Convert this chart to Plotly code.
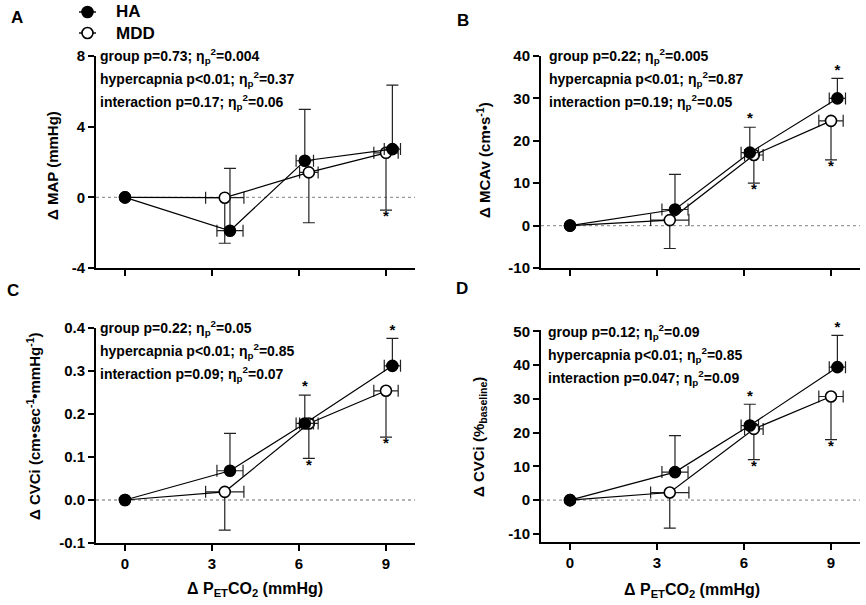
import plotly.graph_objects as go

# delta PETCO2 (mmHg) for each stage, mean and SD
ha_x = [0, 3.62, 6.2, 9.22]
ha_x_sd = [0, 0.45, 0.3, 0.28]
mdd_x = [0, 3.44, 6.34, 9.0]
mdd_x_sd = [0, 0.66, 0.32, 0.42]
x_ticks = [0, 3, 6, 9]

# A: delta MAP (mmHg)
map_ha = [0, -1.89, 2.07, 2.73]
map_ha_sd = [0, 3.53, 2.91, 3.62]
map_mdd = [0, -0.02, 1.41, 2.52]
map_mdd_sd = [0, 2.58, 2.85, 3.24]
map_ticks = [-4, 0, 4, 8]

# B: delta MCAv (cm/s)
mcav_ha = [0, 3.8, 17.2, 30.0]
mcav_ha_sd = [0, 8.3, 6.0, 4.7]
mcav_mdd = [0, 1.3, 16.65, 24.7]
mcav_mdd_sd = [0, 6.7, 6.65, 9.2]
mcav_ticks = [-10, 0, 10, 20, 30, 40]

# C: delta CVCi (cm/s/mmHg)
cvci_ha = [0, 0.068, 0.178, 0.312]
cvci_ha_sd = [0, 0.087, 0.066, 0.064]
cvci_mdd = [0, 0.019, 0.178, 0.254]
cvci_mdd_sd = [0, 0.089, 0.081, 0.108]
cvci_ticks = [-0.1, 0.0, 0.1, 0.2, 0.3, 0.4]

# D: delta CVCi (% baseline)
cvcp_ha = [0, 8.3, 22.1, 39.4]
cvcp_ha_sd = [0, 10.8, 6.3, 9.4]
cvcp_mdd = [0, 2.25, 21.1, 30.7]
cvcp_mdd_sd = [0, 10.55, 9.1, 12.8]
cvcp_ticks = [-10, 0, 10, 20, 30, 40, 50]

# significance vs baseline
star_a_ha = [False, False, False, False]
star_a_mdd = [False, False, False, True]
star_ha = [False, False, True, True]
star_mdd = [False, False, True, True]

stats_a = ["group p=0.73; η<sub>p</sub><sup>2</sup>=0.004",
           "hypercapnia p<0.01; η<sub>p</sub><sup>2</sup>=0.37",
           "interaction p=0.17; η<sub>p</sub><sup>2</sup>=0.06"]
stats_b = ["group p=0.22; η<sub>p</sub><sup>2</sup>=0.005",
           "hypercapnia p<0.01; η<sub>p</sub><sup>2</sup>=0.87",
           "interaction p=0.19; η<sub>p</sub><sup>2</sup>=0.05"]
stats_c = ["group p=0.22; η<sub>p</sub><sup>2</sup>=0.05",
           "hypercapnia p<0.01; η<sub>p</sub><sup>2</sup>=0.85",
           "interaction p=0.09; η<sub>p</sub><sup>2</sup>=0.07"]
stats_d = ["group p=0.12; η<sub>p</sub><sup>2</sup>=0.09",
           "hypercapnia p<0.01; η<sub>p</sub><sup>2</sup>=0.85",
           "interaction p=0.047; η<sub>p</sub><sup>2</sup>=0.09"]

FONT = "Arial, Liberation Sans, sans-serif"
W, H = 866, 605

fig = go.Figure()


def add_panel(n, ha, ha_sd, mdd, mdd_sd, s_ha, s_mdd):
    xa = "x" if n == 1 else "x%d" % n
    ya = "y" if n == 1 else "y%d" % n
    eb = dict(thickness=1.2, width=6, color="#222")
    fig.add_trace(go.Scatter(
        x=mdd_x, y=mdd, xaxis=xa, yaxis=ya, name="MDD", mode="lines+markers",
        line=dict(color="black", width=1.2),
        marker=dict(size=11, color="white", line=dict(color="black", width=1.6)),
        error_y=dict(type="data", array=[0] * 4, arrayminus=mdd_sd, symmetric=False, **eb),
        error_x=dict(type="data", array=mdd_x_sd, **eb)))
    fig.add_trace(go.Scatter(
        x=ha_x, y=ha, xaxis=xa, yaxis=ya, name="HA", mode="lines+markers",
        line=dict(color="black", width=1.2),
        marker=dict(size=11, color="black", line=dict(color="black", width=1.6)),
        error_y=dict(type="data", array=ha_sd, arrayminus=[0] * 4, symmetric=False, **eb),
        error_x=dict(type="data", array=ha_x_sd, **eb)))
    # stars beyond the error bar ends
    sx = [ha_x[i] for i in range(4) if s_ha[i]]
    sy = [ha[i] + ha_sd[i] for i in range(4) if s_ha[i]]
    if sx:
        fig.add_trace(go.Scatter(x=sx, y=sy, xaxis=xa, yaxis=ya, mode="text", text=["*"] * len(sx),
                                 textposition="top center", cliponaxis=False,
                                 textfont=dict(family=FONT, size=15, color="black", weight="bold")))
    sx = [mdd_x[i] for i in range(4) if s_mdd[i]]
    sy = [mdd[i] - mdd_sd[i] for i in range(4) if s_mdd[i]]
    if sx:
        fig.add_trace(go.Scatter(x=sx, y=sy, xaxis=xa, yaxis=ya, mode="text", text=["*"] * len(sx),
                                 textposition="bottom center", cliponaxis=False,
                                 textfont=dict(family=FONT, size=15, color="black", weight="bold")))


add_panel(1, map_ha, map_ha_sd, map_mdd, map_mdd_sd, star_a_ha, star_a_mdd)
add_panel(2, mcav_ha, mcav_ha_sd, mcav_mdd, mcav_mdd_sd, star_ha, star_mdd)
add_panel(3, cvci_ha, cvci_ha_sd, cvci_mdd, cvci_mdd_sd, star_ha, star_mdd)
add_panel(4, cvcp_ha, cvcp_ha_sd, cvcp_mdd, cvcp_mdd_sd, star_ha, star_mdd)

# panel boxes in pixels: left, right, top, bottom
boxes = {1: (96, 415, 56, 268), 2: (541, 860, 56, 268),
         3: (96, 415, 328, 543), 4: (541, 860, 330, 542)}
yranges = {1: [-4, 8], 2: [-10, 40], 3: [-0.1, 0.4], 4: [-12.4, 50.4]}
yticks = {1: (map_ticks, "%d"), 2: (mcav_ticks, "%d"), 3: (cvci_ticks, "%.1f"), 4: (cvcp_ticks, "%d")}

axis_common = dict(showline=True, linecolor="black", linewidth=2, ticks="outside",
                   tickwidth=2, ticklen=6, tickcolor="black", showgrid=False, zeroline=False,
                   automargin=False,
                   tickfont=dict(family=FONT, size=15, color="black", weight="bold"))

for n, (l, r, t, b) in boxes.items():
    sfx = "" if n == 1 else str(n)
    vals, fmt = yticks[n]
    fig.layout["xaxis" + sfx] = dict(
        domain=[l / W, r / W], anchor="y" + sfx, range=[-1, 10],
        tickvals=x_ticks, showticklabels=n in (3, 4), **axis_common)
    fig.layout["yaxis" + sfx] = dict(
        domain=[1 - b / H, 1 - t / H], anchor="x" + sfx, range=yranges[n],
        tickvals=vals, ticktext=[fmt % v for v in vals], **axis_common)
    fig.add_shape(type="line", xref="x%s domain" % sfx, yref="y" + sfx, x0=0, x1=1, y0=0, y1=0,
                  line=dict(color="#9a9a9a", width=1.3, dash="dot"), layer="below")

anns = []


def txt(x, y, s, size=14, angle=0, xanchor="left"):
    anns.append(dict(x=x / W, y=1 - y / H, xref="paper", yref="paper", text=s, showarrow=False,
                     xanchor=xanchor, yanchor="middle", textangle=angle, align="left",
                     font=dict(family=FONT, size=size, color="black", weight="bold")))


for lines, (x0, y0) in [(stats_a, (98, 56)), (stats_b, (547, 56)),
                        (stats_c, (98, 328)), (stats_d, (546, 332))]:
    for i, s in enumerate(lines):
        txt(x0, y0 + i * 23, s)

txt(17, 18, "A", 17, xanchor="center")
txt(463, 20, "B", 17, xanchor="center")
txt(13, 290, "C", 17, xanchor="center")
txt(462, 288, "D", 17, xanchor="center")

txt(53, 166, "Δ MAP (mmHg)", 15, -90, "center")
txt(483, 160, "Δ MCAv (cm•s<sup>-1</sup>)", 15, -90, "center")
txt(33, 426, "Δ CVCi (cm•sec<sup>-1</sup>•mmHg<sup>-1</sup>)", 15, -90, "center")
txt(480, 437, "Δ CVCi (%<sub>baseline</sub>)", 15, -90, "center")
txt(255, 589, "Δ P<sub>ET</sub>CO<sub>2</sub> (mmHg)", 16, 0, "center")
txt(692, 590, "Δ P<sub>ET</sub>CO<sub>2</sub> (mmHg)", 16, 0, "center")

# legend drawn by hand at the top left
legend_items = [("HA", "black", 12), ("MDD", "white", 33)]
for name, fill, ly in legend_items:
    fig.add_shape(type="line", xref="paper", yref="paper", x0=79 / W, x1=96 / W,
                  y0=1 - ly / H, y1=1 - ly / H, line=dict(color="black", width=1.4))
    fig.add_shape(type="circle", xref="paper", yref="paper", xsizemode="pixel", ysizemode="pixel",
                  xanchor=87.5 / W, yanchor=1 - ly / H, x0=-5.5, x1=5.5, y0=-5.5, y1=5.5,
                  fillcolor=fill, line=dict(color="black", width=1.6))
    txt(114, ly, name, 17)

fig.update_layout(
    width=W, height=H, margin=dict(l=0, r=0, t=0, b=0, autoexpand=False),
    plot_bgcolor="white", paper_bgcolor="white",
    annotations=anns, showlegend=False,
)

# drop the browser's default page margin so the figure sits at the window origin
fig.write_html("out.html", config={"displayModeBar": False},
               post_script="document.body.style.margin='0px';")
